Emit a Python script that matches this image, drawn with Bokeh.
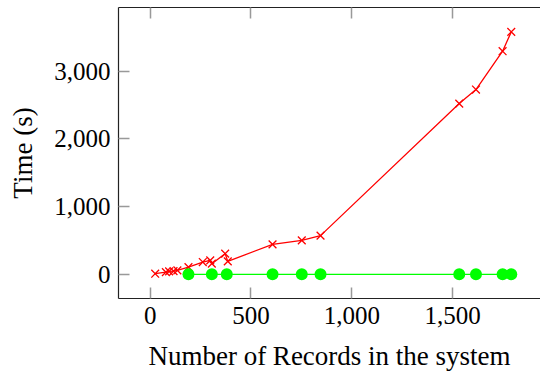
from bokeh.plotting import figure
from bokeh.models import LinearAxis, FixedTicker, NumeralTickFormatter, Range1d, CustomJSTickFormatter
from bokeh.embed import file_html
from bokeh.resources import INLINE

# data
red_x = [25, 78, 94, 116, 135, 190, 261, 298, 306, 372, 385, 607, 752, 845, 1533, 1616, 1748, 1791]
red_y = [10, 34, 44, 49, 59, 108, 182, 207, 158, 306, 192, 443, 502, 572, 2521, 2728, 3294, 3579]
green_x = [190, 306, 380, 607, 752, 845, 1533, 1616, 1748, 1791]
green_y = [1, 1, 1, 1, 1, 1, 1, 1, 1, 1]
x_ticks = [0, 500, 1000, 1500]
y_ticks = [0, 1000, 2000, 3000]

FONT = "Liberation Serif"
FS = "25px"
TFS = "27px"

p = figure(width=540, height=373, output_backend="svg", toolbar_location=None,
           x_range=Range1d(-157, 1936), y_range=Range1d(-356, 3939),
           min_border_left=118, min_border_right=0, min_border_top=7, min_border_bottom=70)
p.outline_line_color = None
p.background_fill_color = "white"
p.border_fill_color = "white"
p.grid.visible = False

p.line(red_x, red_y, line_color="#ff0000", line_width=1.3)
p.scatter(red_x, red_y, marker="x", size=11, line_color="#ff0000", line_width=1.3)
p.line(green_x, green_y, line_color="#00ff00", line_width=1.3)
p.scatter(green_x, green_y, marker="circle", size=12, fill_color="#00ff00", line_color=None)

for ax in p.xaxis + p.yaxis:
    ax.axis_line_color = "#222222"
    ax.axis_line_width = 1.2
    ax.major_tick_in = 11
    ax.major_tick_out = 0
    ax.major_tick_line_color = "#999999"
    ax.major_tick_line_width = 1.5
    ax.minor_tick_line_color = None
    ax.major_label_text_font = FONT
    ax.major_label_text_font_size = FS
    ax.major_label_text_color = "black"
    ax.axis_label_text_font = FONT
    ax.axis_label_text_font_size = TFS
    ax.axis_label_text_font_style = "normal"
    ax.axis_label_text_color = "black"
    ax.major_label_standoff = 8

p.xaxis.ticker = FixedTicker(ticks=x_ticks)
p.yaxis.ticker = FixedTicker(ticks=y_ticks)
p.xaxis.formatter = NumeralTickFormatter(format="0,0")
p.yaxis.formatter = NumeralTickFormatter(format="0,0")
p.xaxis.axis_label = "Number of Records in the system"
p.yaxis.axis_label = "Time (s)"
p.xaxis.axis_label_standoff = 14
p.yaxis.axis_label_standoff = 13

top = LinearAxis(ticker=FixedTicker(ticks=x_ticks),
                 formatter=CustomJSTickFormatter(code="return '';"),
                 major_label_standoff=0, major_tick_in=11, major_tick_out=0,
                 major_tick_line_color="#999999", major_tick_line_width=1.5,
                 minor_tick_line_color=None, axis_line_color="#222222", axis_line_width=1.2)
p.add_layout(top, "above")

open("out.html", "w").write(file_html(p, INLINE))
